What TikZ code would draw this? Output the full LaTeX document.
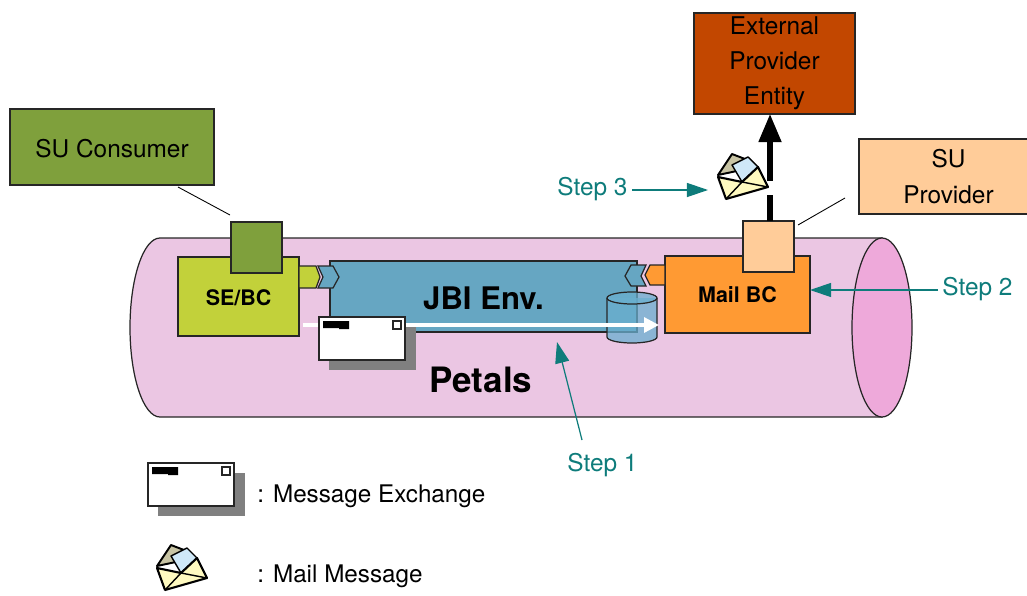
\documentclass[tikz,border=0pt]{standalone}
\usepackage{fontspec}
\setmainfont{TeX Gyre Heros}
\usetikzlibrary{arrows.meta}

\definecolor{tubepink}{HTML}{EBC6E3}
\definecolor{tubeend}{HTML}{EEA9DA}
\definecolor{jbiblue}{HTML}{66A6C2}
\definecolor{storeblue}{HTML}{6AAFCF}
\definecolor{seyellow}{HTML}{C2D13A}
\definecolor{sugreen}{HTML}{7FA03C}
\definecolor{mailorange}{HTML}{FF9A33}
\definecolor{supeach}{HTML}{FFCC99}
\definecolor{extrust}{HTML}{C24700}
\definecolor{stepteal}{HTML}{0E7C7B}
\definecolor{flapgray}{HTML}{C8C4A4}
\definecolor{letterblue}{HTML}{CFE8F8}
\definecolor{envyellow}{HTML}{FFFAC0}

\tikzstyle{box} = [rectangle, draw=black!85, line width=0.8pt, inner sep=0pt, text centered, font=\fontsize{13.9pt}{20pt}\selectfont]
\tikzstyle{boldbox} = [box, font=\fontsize{12.2pt}{15pt}\selectfont\bfseries]
\tikzstyle{steplabel} = [text=stepteal, inner sep=0pt, font=\fontsize{13.9pt}{17pt}\selectfont]
\tikzstyle{plainlabel} = [inner sep=0pt, font=\fontsize{13.8pt}{17pt}\selectfont]
\tikzstyle{steparrow} = [stepteal, line width=0.7pt, -{Triangle[length=12pt,width=8pt]}]
\tikzstyle{thinline} = [black, line width=0.5pt]
\tikzstyle{outline} = [black!85, line width=0.7pt]
\tikzset{
  droptext/.style={execute at begin node=\rule{0pt}{#1}},
  msgicon/.pic={
    \fill [black!50] (-33,-11) rectangle (54,32);
    \draw [black!85, fill=white, line width=0.9pt] (-43,-21) rectangle (43,22);
    \fill [black] (-39,-17) rectangle (-13,-10) (-23,-10) rectangle (-13,-9);
    \draw [black!85, fill=white, line width=0.7pt] (31,-17) rectangle (39,-9);
  },
  mailicon/.pic={
    \draw [fill=flapgray, line width=1.1pt, line join=round] (-25,-3) -- (-11,-24) -- (2,-19) -- (8,-10) -- cycle;
    \draw [fill=letterblue, line width=0.8pt, line join=round] (-11,-13) -- (5,-21) -- (15,-11) -- (-1,4) -- cycle;
    \draw [fill=envyellow, line width=1.2pt, line join=round] (-25,-1) -- (-1,4) -- (15,-11) -- (25,9) -- (-17,21) -- cycle;
    \draw [line width=0.8pt] (-17,21) -- (-1,4) -- (25,9);
  }
}

\begin{document}
\begin{tikzpicture}[x=0.02cm, y=-0.02cm]
    \useasboundingbox (0,0) rectangle (1027,595);

    % tube
    \draw [outline, fill=tubepink] (160,238) -- (882,238) -- (882,417) -- (160,417) arc [start angle=-270, end angle=-90, x radius=30, y radius=89.5];
    \draw [outline, fill=tubeend] (882,327.5) ellipse [x radius=30, y radius=89.5];
    \node (petals) [font=\fontsize{19.9pt}{22pt}\selectfont\bfseries, inner sep=0pt] at (481,380) {Petals};

    % components
    \node (sebc) [boldbox, droptext=10pt, fill=seyellow, minimum width=2.42cm, minimum height=1.58cm] at (238.5,296.5) {SE/BC};
    \node (mailbc) [boldbox, fill=mailorange, minimum width=2.9cm, minimum height=1.54cm] at (737.5,294.5) {Mail BC};
    \node (jbi) [box, droptext=15pt, fill=jbiblue, minimum width=6.14cm, minimum height=1.42cm, font=\fontsize{17.7pt}{20pt}\selectfont\bfseries] at (483.5,296.5) {JBI Env.};
    \node (consumersq) [box, fill=sugreen, minimum width=1.02cm, minimum height=1.02cm] at (256.5,247.5) {};
    \node (providersq) [box, fill=supeach, minimum width=1.02cm, minimum height=1.02cm] at (768.5,246.5) {};

    % tabs
    \draw [outline, fill=seyellow] (299,266) -- (316,266) -- (320,277) -- (316,288) -- (299,288) -- cycle;
    \draw [outline, fill=jbiblue] (318,266) -- (333,266) -- (339,277) -- (333,288) -- (318,288) -- (323,277) -- cycle;
    \draw [outline, fill=jbiblue] (646,265) -- (631,265) -- (625,276) -- (631,286) -- (646,286) -- (641,276) -- cycle;
    \draw [outline, fill=mailorange] (665,265) -- (650,265) -- (645,275) -- (650,285) -- (665,285) -- cycle;

    % store
    \draw [outline, fill=storeblue, fill opacity=0.75] (607,298) -- (607,337) arc [start angle=180, end angle=0, x radius=25, y radius=6] -- (657,298);
    \draw [outline, fill=storeblue, fill opacity=0.75] (632,298) ellipse [x radius=25, y radius=6];

    % exchange
    \coordinate (flowstart) at (303,325);
    \coordinate (flowend) at (659,325);
    \draw [white, line width=1.8pt, -{Triangle[length=8.5pt,width=8.5pt]}] (flowstart) -- (flowend);
    \pic (msgflow) at (362,338) {msgicon};

    % entities
    \node (consumer) [box, droptext=12.5pt, fill=sugreen, minimum width=4.08cm, minimum height=1.52cm] at (112,147) {SU Consumer};
    \node (external) [box, droptext=16pt, fill=extrust, minimum width=3.22cm, minimum height=2.02cm, align=center] at (774.5,63.5) {External\\Provider\\Entity};
    \node (provider) [box, fill=supeach, minimum width=3.58cm, minimum height=1.5cm, align=center] at (948.5,176.5) {SU\\Provider};

    % links
    \coordinate (consumerend) at (178,187);
    \coordinate (consumersqend) at (230,215);
    \coordinate (providerend) at (845,198);
    \coordinate (providersqend) at (798,225);
    \draw [thinline] (consumerend) -- (consumersqend);
    \draw [thinline] (providerend) -- (providersqend);

    \coordinate (gaplow) at (770,195);
    \coordinate (gaphigh) at (770,181);
    \coordinate (providertop) at (770,221);
    \coordinate (externalbottom) at (770,114);
    \draw [black, line width=2.9pt] (providertop) -- (gaplow);
    \draw [black, line width=2.9pt, -{Triangle[length=16pt,width=12.5pt]}] (gaphigh) -- (externalbottom);

    \pic (mailstep) at (743,178) {mailicon};

    % steps
    \node (step1) [steplabel] at (602.5,465) {Step 1};
    \node (step2) [steplabel] at (977.5,289) {Step 2};
    \node (step3) [steplabel] at (592.5,189) {Step 3};
    \coordinate (step1start) at (582,440);
    \coordinate (step1end) at (557,342);
    \coordinate (step2start) at (938,290);
    \coordinate (step2end) at (810,290);
    \coordinate (step3start) at (632,190);
    \coordinate (step3end) at (708,190);
    \draw [steparrow] (step1start) -- (step1end);
    \draw [steparrow] (step2start) -- (step2end);
    \draw [steparrow] (step3start) -- (step3end);

    % legend
    \pic (msglegend) at (191,484) {msgicon};
    \pic (maillegend) at (182,569) {mailicon};
    \node (msgtext) [plainlabel, anchor=west] at (257,496) {: Message Exchange};
    \node (mailtext) [plainlabel, anchor=west] at (257,576) {: Mail Message};
\end{tikzpicture}
\end{document}
